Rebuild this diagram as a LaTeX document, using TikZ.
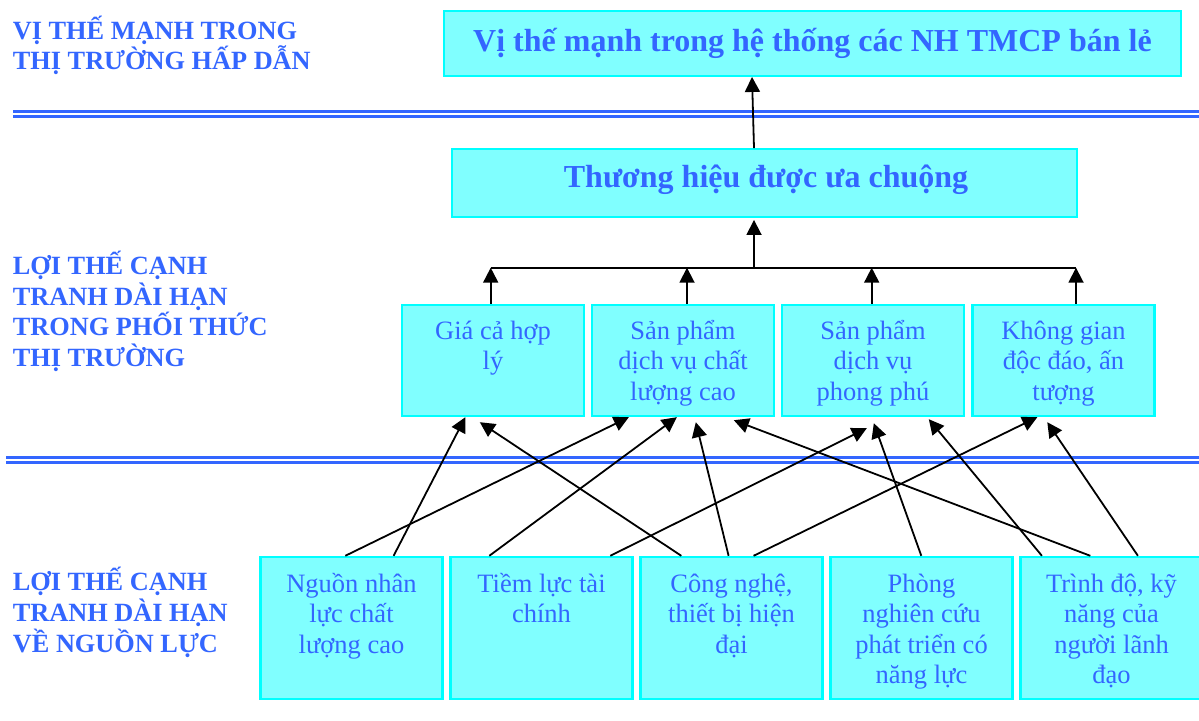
\documentclass[tikz,border=0pt]{standalone}
\usepackage{fontspec}
\setmainfont{Liberation Serif}
\usetikzlibrary{arrows.meta,calc}
\definecolor{txtblue}{HTML}{3366FF}
\definecolor{boxfill}{HTML}{80FFFF}
\definecolor{boxline}{HTML}{00FFFF}
\definecolor{rulecol}{HTML}{3366FF}

\begin{document}
\begin{tikzpicture}[x=1pt,y=-1pt,
  box/.style={draw=boxline, fill=boxfill, line width=2.4pt, inner sep=0pt},
  midbox/.style={box, minimum width=182pt, minimum height=111pt},
  basebox/.style={box, minimum width=182pt, minimum height=142pt},
  boxtext/.style={anchor=base, inner sep=0pt, text=txtblue,
    font=\fontsize{26.5}{30.5}\selectfont},
  title/.style={anchor=base, inner sep=0pt, text=txtblue,
    font=\fontsize{32}{36}\selectfont\bfseries},
  tier/.style={anchor=base west, inner sep=0pt, text=txtblue,
    font=\fontsize{26.3}{30.8}\selectfont\bfseries},
  link/.style={line width=1.8pt, -{Triangle[length=15pt,width=15pt]}},
  busline/.style={line width=1.8pt},
  sep/.style={draw=rulecol, line width=2.6pt}
]
\useasboundingbox (0,0) rectangle (1199,720);

% tier separators (double rules)
\draw[sep] (13,111.3) -- (1199,111.3);
\draw[sep] (13,116.7) -- (1199,116.7);
\draw[sep] (6,457.7) -- (1199,457.7);
\draw[sep] (6,462.7) -- (1199,462.7);

% tier headings
\node[tier] (l1) at (12.7,39) {\parbox[t]{420pt}{\raggedright
  VỊ THẾ MẠNH TRONG\\THỊ TRƯỜNG HẤP DẪN}};
\node[tier] (l2) at (12.7,274.3) {\parbox[t]{380pt}{\raggedright
  LỢI THẾ CẠNH\\TRANH DÀI HẠN\\TRONG PHỐI THỨC\\THỊ TRƯỜNG}};
\node[tier] (l3) at (12.7,590.7) {\parbox[t]{240pt}{\raggedright
  LỢI THẾ CẠNH\\TRANH DÀI HẠN\\VỀ NGUỒN LỰC}};

% goal and brand boxes
\node[box, minimum width=737pt, minimum height=64.5pt] (t) at (812.3,43.5) {};
\node[title] (tt) at (812.5,51.7) {Vị thế mạnh trong hệ thống các NH TMCP bán lẻ};
\node[box, minimum width=625pt, minimum height=67.5pt] (s) at (764.3,183) {};
\node[title] (st) at (766,187.7) {Thương hiệu được ưa chuộng};

% marketing-mix advantages
\node[midbox] (m1) at (493,360.5) {};
\node[midbox] (m2) at (683,360.5) {};
\node[midbox] (m3) at (873,360.5) {};
\node[midbox] (m4) at (1063.5,360.5) {};
\node[boxtext] (m1t) at (493,339) {\parbox[t]{180pt}{\centering Giá cả hợp\\lý}};
\node[boxtext] (m2t) at (683,339) {\parbox[t]{180pt}{\centering Sản phẩm\\dịch vụ chất\\lượng cao}};
\node[boxtext] (m3t) at (873,339) {\parbox[t]{180pt}{\centering Sản phẩm\\dịch vụ\\phong phú}};
\node[boxtext] (m4t) at (1063.5,339) {\parbox[t]{180pt}{\centering Không gian\\độc đáo, ấn\\tượng}};

% resource advantages
\node[basebox] (n1) at (351.5,628) {};
\node[basebox] (n2) at (541.5,628) {};
\node[basebox] (n3) at (731.5,628) {};
\node[basebox] (n4) at (921.5,628) {};
\node[basebox] (n5) at (1111.5,628) {};
\node[boxtext] (n1t) at (351.5,592) {\parbox[t]{180pt}{\centering Nguồn nhân\\lực chất\\lượng cao}};
\node[boxtext] (n2t) at (541.5,592) {\parbox[t]{180pt}{\centering Tiềm lực tài\\chính}};
\node[boxtext] (n3t) at (731.5,592) {\parbox[t]{180pt}{\centering Công nghệ,\\thiết bị hiện\\đại}};
\node[boxtext] (n4t) at (921.5,592) {\parbox[t]{180pt}{\centering Phòng\\nghiên cứu\\phát triển có\\năng lực}};
\node[boxtext] (n5t) at (1111.5,592) {\parbox[t]{180pt}{\centering Trình độ, kỹ\\năng của\\người lãnh\\đạo}};

% brand -> goal
\draw[link] ($(s.north)+(-10.3,0)$) -- ($(t.south)+(-60.3,0)$);

% collecting bus under the brand box
\coordinate (bus) at (754,267.7);
\coordinate (j1) at (490.7,267.7);
\coordinate (j2) at (687,267.7);
\coordinate (j3) at (871.7,267.7);
\coordinate (j4) at (1076,267.7);
\draw[busline] (j1) -- (j4);
\draw[link] (bus) -- ($(s.south -| bus)+(0,2)$);
\draw[link] (m1.north -| j1) -- (j1);
\draw[link] (m2.north -| j2) -- (j2);
\draw[link] (m3.north -| j3) -- (j3);
\draw[link] (m4.north -| j4) -- (j4);

% resources -> marketing-mix advantages
\draw[link] ($(n1.north west)+(134.3,0)$) -- ($(m1.south west)+(64.5,0)$);
\draw[link] ($(n1.north west)+(86,0)$)    -- ($(m2.south west)+(38,0)$);
\draw[link] ($(n3.north west)+(42,0)$)    -- ($(m1.south west)+(79,5)$);
\draw[link] ($(n2.north west)+(40,0)$)    -- ($(m2.south west)+(86,0)$);
\draw[link] ($(n2.north west)+(161,0)$)   -- ($(m3.south west)+(86,11)$);
\draw[link] ($(n3.north west)+(89.3,0)$)  -- ($(m2.south west)+(105,5)$);
\draw[link] ($(n3.north west)+(114.3,0)$) -- ($(m4.south west)+(66,0)$);
\draw[link] ($(n4.north west)+(92,0)$)    -- ($(m3.south west)+(93,6)$);
\draw[link] ($(n5.north west)+(71,0)$)    -- ($(m2.south west)+(143,3)$);
\draw[link] ($(n5.north west)+(22.6,0)$)  -- ($(m3.south west)+(148,2)$);
\draw[link] ($(n5.north west)+(118.6,0)$) -- ($(m4.south west)+(76,5)$);
\end{tikzpicture}
\end{document}
